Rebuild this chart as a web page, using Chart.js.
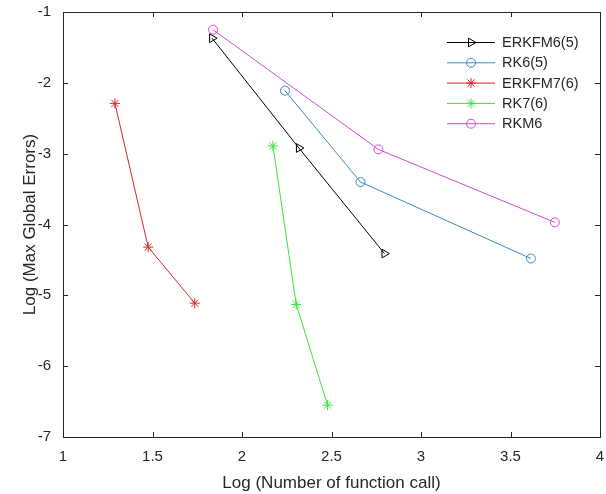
<!DOCTYPE html>
<html>
<head>
<meta charset="utf-8">
<script src="https://cdn.jsdelivr.net/npm/chart.js@4"></script>
<style>
  html, body { margin: 0; padding: 0; background: #fff; }
  #wrap { width: 606px; height: 494px; }
</style>
</head>
<body>
<div id="wrap"><canvas id="errChart" width="606" height="494"></canvas></div>
<script>
// values
const seriesNames = ["ERKFM6(5)", "RK6(5)", "ERKFM7(6)", "RK7(6)", "RKM6"];
const erkfm65X = [1.833, 2.318, 2.796];
const erkfm65Y = [-1.37, -2.92, -4.41];
const rk65X = [2.24, 2.662, 3.614];
const rk65Y = [-2.11, -3.40, -4.48];
const erkfm76X = [1.29, 1.476, 1.736];
const erkfm76Y = [-2.29, -4.32, -5.11];
const rk76X = [2.173, 2.303, 2.478];
const rk76Y = [-2.89, -5.13, -6.55];
const rkm6X = [1.838, 2.762, 3.748];
const rkm6Y = [-1.25, -2.94, -3.97];

const xTicks = [1, 1.5, 2, 2.5, 3, 3.5, 4];
const yTicks = [-7, -6, -5, -4, -3, -2, -1];

const fontFamily = "'Liberation Sans', Arial, sans-serif";
const textColor = "#262626";

function pts(xs, ys) {
    return xs.map((x, i) => ({ x: x, y: ys[i] }));
}

function series(label, data, color, style, radius, rotation) {
    return {
        label: label,
        data: data,
        showLine: true,
        borderColor: color,
        backgroundColor: color,
        borderWidth: 1,
        pointStyle: style,
        pointRadius: radius,
        pointRotation: rotation || 0,
        pointBorderColor: color,
        pointBackgroundColor: "rgba(0,0,0,0)",
        pointBorderWidth: 1
    };
}

// box with inward ticks on all four sides, like the original figure
const boxPlugin = {
    id: "box",
    afterDraw(chart) {
        const { ctx, chartArea: a, scales } = chart;
        ctx.save();
        ctx.strokeStyle = "#262626";
        ctx.lineWidth = 1;
        ctx.strokeRect(Math.round(a.left) + 0.5, Math.round(a.top) + 0.5,
            Math.round(a.right - a.left), Math.round(a.bottom - a.top));
        ctx.beginPath();
        xTicks.forEach(v => {
            const px = Math.round(scales.x.getPixelForValue(v)) + 0.5;
            ctx.moveTo(px, a.bottom); ctx.lineTo(px, a.bottom - 5);
            ctx.moveTo(px, a.top); ctx.lineTo(px, a.top + 5);
        });
        yTicks.forEach(v => {
            const py = Math.round(scales.y.getPixelForValue(v)) + 0.5;
            ctx.moveTo(a.left, py); ctx.lineTo(a.left + 5, py);
            ctx.moveTo(a.right, py); ctx.lineTo(a.right - 5, py);
        });
        ctx.stroke();
        ctx.restore();
    }
};

// legend with a line and marker per entry
const legendPlugin = {
    id: "lineLegend",
    afterDatasetsDraw(chart) {
        const ctx = chart.ctx;
        ctx.save();
        ctx.font = "14.5px " + fontFamily;
        ctx.textBaseline = "middle";
        ctx.textAlign = "left";
        chart.data.datasets.forEach((ds, i) => {
            const y = 42 + i * 20.3;
            ctx.strokeStyle = ds.borderColor;
            ctx.lineWidth = 1;
            ctx.beginPath();
            ctx.moveTo(447, y + 0.5);
            ctx.lineTo(495, y + 0.5);
            ctx.stroke();
            ctx.fillStyle = "rgba(0,0,0,0)";
            Chart.helpers.drawPoint(ctx, {
                pointStyle: ds.pointStyle,
                radius: ds.pointRadius,
                rotation: ds.pointRotation,
                borderWidth: 1
            }, 471, y + 0.5);
            ctx.fillStyle = textColor;
            ctx.fillText(ds.label, 502, y + 1);
        });
        ctx.restore();
    }
};

const tickText = v => String(Math.round(v * 10) / 10);

document.addEventListener("DOMContentLoaded", function () {
    const ctx = document.getElementById("errChart").getContext("2d");
    new Chart(ctx, {
        type: "scatter",
        data: {
            datasets: [
                series(seriesNames[0], pts(erkfm65X, erkfm65Y), "#000000", "triangle", 5, 90),
                series(seriesNames[1], pts(rk65X, rk65Y), "#3a8cb8", "circle", 4.5),
                series(seriesNames[2], pts(erkfm76X, erkfm76Y), "#d8242c", "star", 5),
                series(seriesNames[3], pts(rk76X, rk76Y), "#3fe03f", "star", 5),
                series(seriesNames[4], pts(rkm6X, rkm6Y), "#d24ad2", "circle", 4.5)
            ]
        },
        options: {
            responsive: false,
            animation: false,
            layout: { padding: { left: 0, right: 5, top: 12, bottom: 0 } },
            plugins: {
                legend: { display: false },
                tooltip: { enabled: false }
            },
            scales: {
                x: {
                    type: "linear",
                    min: 1,
                    max: 4,
                    afterBuildTicks: scale => { scale.ticks = xTicks.map(v => ({ value: v })); },
                    afterFit: scale => {
                        scale.height = 57;
                        scale.paddingLeft = 0;
                        scale.paddingRight = 0;
                    },
                    grid: { display: false, drawTicks: false },
                    border: { display: false },
                    ticks: {
                        color: textColor,
                        font: { family: fontFamily, size: 15 },
                        padding: 11,
                        maxRotation: 0,
                        callback: tickText
                    },
                    title: {
                        display: true,
                        text: "Log (Number of function call)",
                        color: textColor,
                        font: { family: fontFamily, size: 17 },
                        padding: { top: 0, bottom: 0 }
                    }
                },
                y: {
                    type: "linear",
                    min: -7,
                    max: -1,
                    afterBuildTicks: scale => { scale.ticks = yTicks.map(v => ({ value: v })); },
                    afterFit: scale => {
                        scale.width = 63;
                        scale.paddingTop = 0;
                        scale.paddingBottom = 0;
                    },
                    grid: { display: false, drawTicks: false },
                    border: { display: false },
                    ticks: {
                        color: textColor,
                        font: { family: fontFamily, size: 15 },
                        padding: 12,
                        callback: tickText
                    },
                    title: {
                        display: true,
                        text: "Log (Max Global Errors)",
                        color: textColor,
                        font: { family: fontFamily, size: 17 },
                        padding: { top: 20, bottom: 0 }
                    }
                }
            }
        },
        plugins: [boxPlugin, legendPlugin]
    });
});
</script>
</body>
</html>
